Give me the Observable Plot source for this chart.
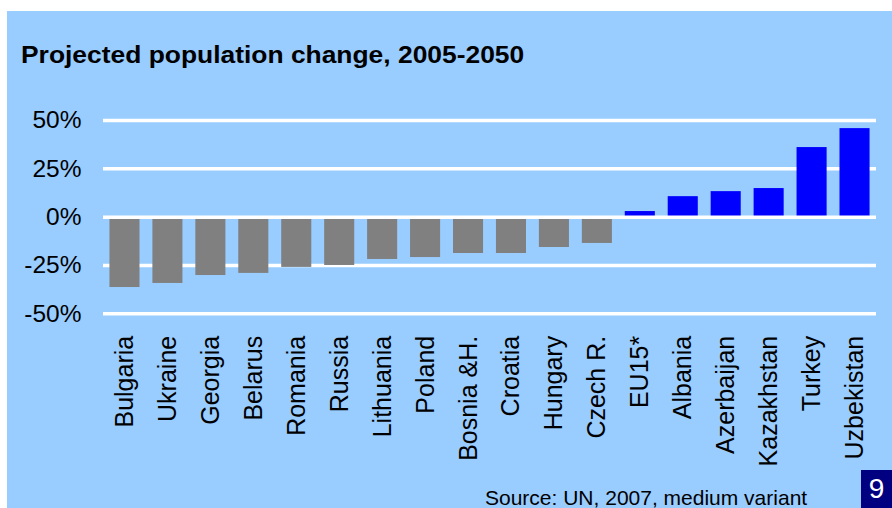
<!DOCTYPE html>
<html>
<head>
<meta charset="utf-8">
<script src="https://cdn.jsdelivr.net/npm/d3@7"></script>
<script src="https://cdn.jsdelivr.net/npm/@observablehq/plot@0.6"></script>
<style>
  html, body { margin: 0; padding: 0; background: #ffffff; }
  body { width: 892px; height: 508px; position: relative; overflow: hidden; font-family: Arial, "Liberation Sans", sans-serif; }
  #panel { position: absolute; left: 7px; top: 11px; width: 885px; height: 497px; background: #99CCFF; }
  #title { position: absolute; left: 21px; top: 43px; font-size: 24px; line-height: 24px; font-weight: bold; color: #000; white-space: nowrap; transform: scaleX(1.1); transform-origin: 0 0; }
  #chart { position: absolute; left: 0; top: 0; }
  #source { position: absolute; left: 485px; top: 487px; font-size: 21px; line-height: 21px; color: #000; white-space: nowrap; }
  #page { position: absolute; left: 861px; top: 470px; width: 31px; height: 38px; background: #000080; color: #fff; font-size: 28px; line-height: 38px; text-align: center; }
</style>
</head>
<body>
<div id="panel"></div>
<div id="chart"></div>
<div id="title">Projected population change, 2005-2050</div>
<div id="source">Source: UN, 2007, medium variant</div>
<div id="page">9</div>
<script>
const countries = ["Bulgaria","Ukraine","Georgia","Belarus","Romania","Russia","Lithuania","Poland","Bosnia &H.","Croatia","Hungary","Czech R.","EU15*","Albania","Azerbaijan","Kazakhstan","Turkey","Uzbekistan"];
const changes = [-36.4,-34.3,-30.2,-29.1,-26.0,-25.0,-21.9,-20.9,-18.8,-18.8,-15.7,-13.6,2.9,10.6,13.2,14.8,36.0,45.8];
const tickValues = [-50,-25,0,25,50];
const tickLabels = ["-50%","-25%","0%","25%","50%"];

const data = countries.map((c, i) => ({country: c, value: changes[i], sign: changes[i] < 0 ? "decline" : "growth"}));

const chart = Plot.plot({
  width: 892,
  height: 508,
  marginLeft: 103,
  marginRight: 16,
  marginTop: 120,
  marginBottom: 194.7,
  style: {background: "transparent", fontFamily: "Arial, 'Liberation Sans', sans-serif", color: "#000"},
  x: {domain: countries, paddingInner: 0.3, paddingOuter: 0.15, round: false, label: null},
  y: {domain: [-50, 50], label: null},
  color: {domain: ["decline", "growth"], range: ["#808080", "#0000FF"]},
  marks: [
    Plot.ruleY(tickValues.filter(v => v !== 0), {stroke: "white", strokeWidth: 3.5}),
    Plot.barY(data, {x: "country", y: "value", fill: "sign"}),
    Plot.ruleY([0], {stroke: "white", strokeWidth: 3.5}),
    Plot.axisY({ticks: tickValues, tickFormat: d => tickLabels[tickValues.indexOf(d)], tickSize: 0, tickPadding: 22, fontSize: 24.5, label: null}),
    Plot.axisX({tickRotate: -90, tickSize: 0, tickPadding: 22, fontSize: 25, label: null})
  ]
});
document.getElementById("chart").appendChild(chart);
</script>
</body>
</html>
